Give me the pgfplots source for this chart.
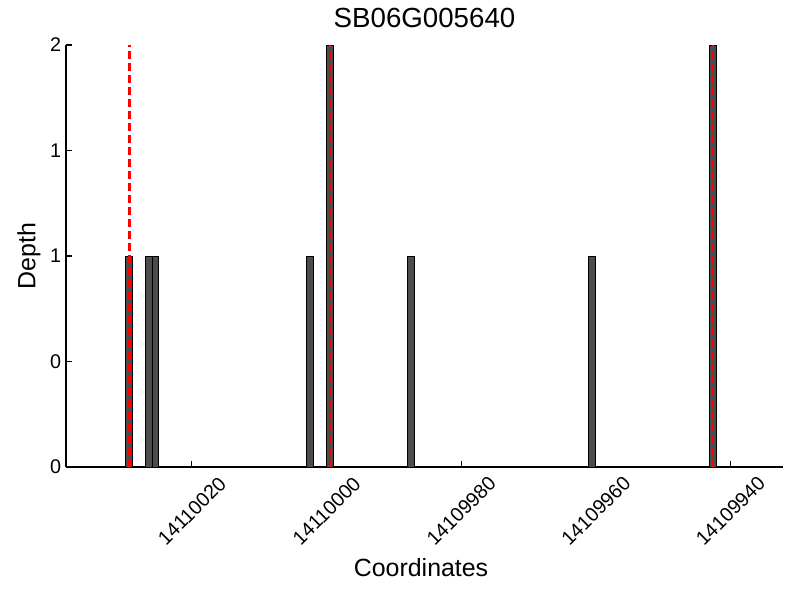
\documentclass[border=0pt]{standalone}
\usepackage{fontspec}
\setmainfont{Liberation Sans}
\usepackage{pgfplots}
\usepackage{pgfplotstable}
\pgfplotsset{compat=1.18}
% pos = genomic coordinate - 14110000
\pgfplotstableread{
pos depth
29.3 1
26.4 1
25.4 1
2.5 1
-0.5 2
-12.5 1
-39.4 1
-57.4 2
}\bars
\pgfplotstableread{
pos top
29.3 2
-0.5 2
-57.4 2
}\marks
\begin{document}
\begin{tikzpicture}
\begin{axis}[
  name=ax,
  scale only axis,
  width=516.2bp, height=303.8bp,
  x dir=reverse,
  xmin=-67.8, xmax=38.7,
  ymin=0, ymax=2,
  clip=false,
  axis lines=left,
  axis line style={-, line width=0.8bp, black},
  tick align=inside,
  major tick length=4.3bp,
  tick style={line width=0.8bp, black},
  xtick={20,0,-20,-40,-60},
  xticklabels={14110020,14110000,14109980,14109960,14109940},
  ytick={0,0.5,1,1.5,2},
  yticklabels={0,0,1,1,2},
  tick label style={font=\fontsize{14.3}{16}\selectfont},
  xticklabel style={rotate=45, anchor=center, xshift=-22.4bp, yshift=-22.4bp},
  title={SB06G005640},
  title style={font=\fontsize{20}{24}\selectfont, at={(axis description cs:0.5,1.0214)}, anchor=base, inner sep=0pt},
  xlabel={Coordinates},
  xlabel style={font=\fontsize{18}{22}\selectfont, at={(axis description cs:0.4952,-0.26)}, anchor=base, inner sep=0pt},
  ylabel={Depth},
  ylabel style={font=\fontsize{18}{22}\selectfont, at={(axis description cs:-0.0428,0.5)}, anchor=base, inner sep=0pt},
]
\addplot[ybar, bar width=1, fill=black!70, draw=black, line width=0.72bp] table[x=pos, y=depth] {\bars};
\addplot[ycomb, mark=none, red, line width=1.8bp, dash pattern=on 5.76bp off 2.88bp] table[x=pos, y=top] {\marks};
\end{axis}
\path ([xshift=-47.5bp,yshift=-95.8bp]ax.south west) rectangle ([xshift=12.2bp,yshift=32.4bp]ax.north east);
\end{tikzpicture}
\end{document}
